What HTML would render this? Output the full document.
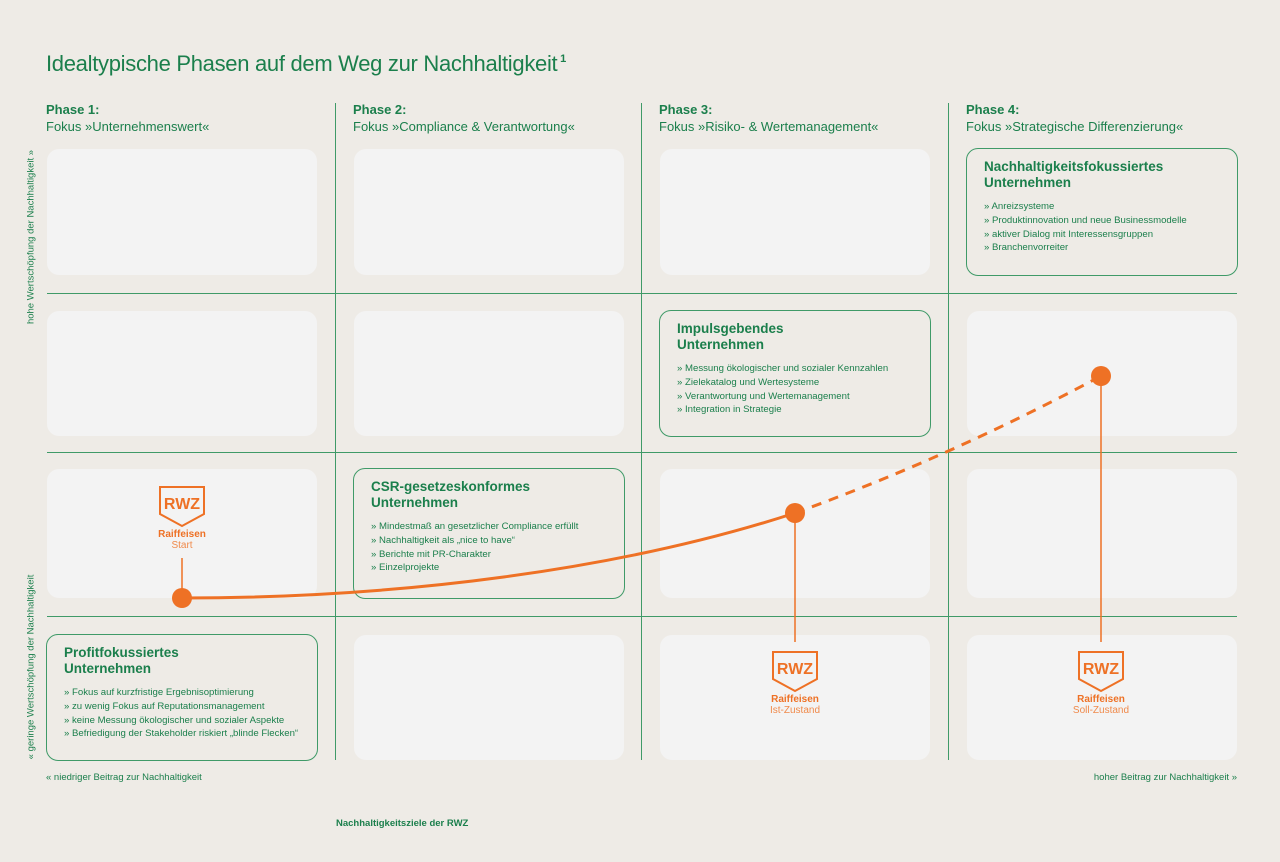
<!DOCTYPE html>
<html><head><meta charset="utf-8"><style>
*{margin:0;padding:0;box-sizing:border-box}
body{width:1280px;height:862px;background:#eeebe6;position:relative;overflow:hidden;font-family:"Liberation Sans",sans-serif;color:#1b7f4c}
.a{position:absolute}
.cell{position:absolute;background:#f3f3f3;border-radius:12px}
.box{position:absolute;border:1px solid #3f9a68;border-radius:12px;background:#eeebe6;padding:10px 17px}
.box h3{font-size:13.5px;line-height:16px;font-weight:bold;color:#1b7f4c;margin-bottom:9px}
.box p{font-size:9.6px;line-height:13.8px;color:#1b7f4c}
.ph{position:absolute;font-size:13px;line-height:17px}
.ph b{display:block}
.logo{position:absolute;width:60px;text-align:center;color:#ee7125}
.logo .n{font-size:10px;font-weight:bold;line-height:11px;margin-top:2px}
.logo .s{font-size:10px;line-height:11px;color:#f08a4b}
.small{font-size:9.5px}
</style></head><body>
<div class="a" style="left:46px;top:51px;font-size:22px;letter-spacing:-0.3px">Idealtypische Phasen auf dem Weg zur Nachhaltigkeit<sup style="font-size:11px;font-weight:bold;vertical-align:9px"> 1</sup></div>

<div class="ph" style="left:46px;top:101px"><b>Phase 1:</b>Fokus »Unternehmenswert«</div>
<div class="ph" style="left:353px;top:101px"><b>Phase 2:</b>Fokus »Compliance &amp; Verantwortung«</div>
<div class="ph" style="left:659px;top:101px"><b>Phase 3:</b>Fokus »Risiko- &amp; Wertemanagement«</div>
<div class="ph" style="left:966px;top:101px"><b>Phase 4:</b>Fokus »Strategische Differenzierung«</div>

<div class="cell" style="left:47px;top:149px;width:270px;height:126px"></div>
<div class="cell" style="left:354px;top:149px;width:270px;height:126px"></div>
<div class="cell" style="left:660px;top:149px;width:270px;height:126px"></div>
<div class="cell" style="left:47px;top:311px;width:270px;height:125px"></div>
<div class="cell" style="left:354px;top:311px;width:270px;height:125px"></div>
<div class="cell" style="left:967px;top:311px;width:270px;height:125px"></div>
<div class="cell" style="left:47px;top:469px;width:270px;height:129px"></div>
<div class="cell" style="left:660px;top:469px;width:270px;height:129px"></div>
<div class="cell" style="left:967px;top:469px;width:270px;height:129px"></div>
<div class="cell" style="left:354px;top:635px;width:270px;height:125px"></div>
<div class="cell" style="left:660px;top:635px;width:270px;height:125px"></div>
<div class="cell" style="left:967px;top:635px;width:270px;height:125px"></div>

<svg class="a" style="left:0;top:0" width="1280" height="862">
<g stroke="#3f9a68" stroke-width="1">
<line x1="335.5" y1="103" x2="335.5" y2="760"/>
<line x1="641.5" y1="103" x2="641.5" y2="760"/>
<line x1="948.5" y1="103" x2="948.5" y2="760"/>
<line x1="47" y1="293.5" x2="1237" y2="293.5"/>
<line x1="47" y1="452.5" x2="1237" y2="452.5"/>
<line x1="47" y1="616.5" x2="1237" y2="616.5"/>
</g>
</svg>

<div class="box" style="left:966px;top:148px;width:272px;height:128px"><h3>Nachhaltigkeitsfokussiertes<br>Unternehmen</h3><p>» Anreizsysteme<br>» Produktinnovation und neue Businessmodelle<br>» aktiver Dialog mit Interessensgruppen<br>» Branchenvorreiter</p></div>
<div class="box" style="left:659px;top:310px;width:272px;height:127px"><h3>Impulsgebendes<br>Unternehmen</h3><p>» Messung ökologischer und sozialer Kennzahlen<br>» Zielekatalog und Wertesysteme<br>» Verantwortung und Wertemanagement<br>» Integration in Strategie</p></div>
<div class="box" style="left:353px;top:468px;width:272px;height:131px"><h3>CSR-gesetzeskonformes<br>Unternehmen</h3><p>» Mindestmaß an gesetzlicher Compliance erfüllt<br>» Nachhaltigkeit als „nice to have“<br>» Berichte mit PR-Charakter<br>» Einzelprojekte</p></div>
<div class="box" style="left:46px;top:634px;width:272px;height:127px"><h3>Profitfokussiertes<br>Unternehmen</h3><p>» Fokus auf kurzfristige Ergebnisoptimierung<br>» zu wenig Fokus auf Reputationsmanagement<br>» keine Messung ökologischer und sozialer Aspekte<br>» Befriedigung der Stakeholder riskiert „blinde Flecken“</p></div>

<svg class="a" style="left:0;top:0" width="1280" height="862">
<g stroke="#ee7125" fill="none">
<line x1="182" y1="558" x2="182" y2="598" stroke-width="1.5"/>
<line x1="795" y1="513" x2="795" y2="642" stroke-width="1.5"/>
<line x1="1101" y1="376" x2="1101" y2="642" stroke-width="1.5"/>
<path d="M182,598 C400,598 620,570 795,513" stroke-width="3"/>
<path d="M795,513 C900,475 1000,430 1101,376" stroke-width="3" stroke-dasharray="10,8"/>
</g>
<g fill="#ee7125"><circle cx="182" cy="598" r="10"/><circle cx="795" cy="513" r="10"/><circle cx="1101" cy="376" r="10"/></g>
<g fill="none" stroke="#ee7125" stroke-width="2">
<path d="M160,487 H204 V514 L182,526 L160,514 Z"/>
<path d="M773,652 H817 V679 L795,691 L773,679 Z"/>
<path d="M1079,652 H1123 V679 L1101,691 L1079,679 Z"/>
</g>
<g fill="#ee7125" font-family="Liberation Sans" font-weight="bold" font-size="16" text-anchor="middle">
<text x="182" y="509">RWZ</text><text x="795" y="674">RWZ</text><text x="1101" y="674">RWZ</text>
</g>
</svg>
<div class="logo" style="left:152px;top:527px"><div class="n">Raiffeisen</div><div class="s">Start</div></div>
<div class="logo" style="left:755px;top:692px;width:80px"><div class="n">Raiffeisen</div><div class="s">Ist-Zustand</div></div>
<div class="logo" style="left:1061px;top:692px;width:80px"><div class="n">Raiffeisen</div><div class="s">Soll-Zustand</div></div>

<div class="a small" style="left:31px;top:237px;transform:translate(-50%,-50%) rotate(-90deg);white-space:nowrap">hohe Wertschöpfung der Nachhaltigkeit »</div>
<div class="a small" style="left:31px;top:667px;transform:translate(-50%,-50%) rotate(-90deg);white-space:nowrap">« geringe Wertschöpfung der Nachhaltigkeit</div>
<div class="a small" style="left:46px;top:772px">« niedriger Beitrag zur Nachhaltigkeit</div>
<div class="a small" style="left:1237px;top:772px;transform:translateX(-100%);white-space:nowrap">hoher Beitrag zur Nachhaltigkeit »</div>
<div class="a small" style="left:336px;top:818px;font-weight:bold">Nachhaltigkeitsziele der RWZ</div>
</body></html>
